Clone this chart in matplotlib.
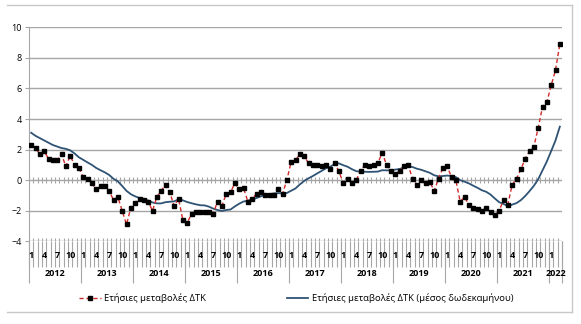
import numpy as np
import matplotlib
matplotlib.use('Agg')
import matplotlib.pyplot as plt
from matplotlib.lines import Line2D
import matplotlib.transforms as mtransforms

plt.rcParams['font.family'] = ['Open Sans', 'DejaVu Sans']

# monthly data, Jan 2012 - Mar 2022
years = [2012, 2013, 2014, 2015, 2016, 2017, 2018, 2019, 2020, 2021, 2022]
month_labels = [1, 4, 7, 10]

cpi_annual = [
    2.3, 2.1, 1.7, 1.9, 1.4, 1.3, 1.3, 1.7, 0.9, 1.6, 1.0, 0.8,          # 2012
    0.2, 0.1, -0.2, -0.6, -0.4, -0.4, -0.7, -1.3, -1.1, -2.0, -2.9, -1.8,  # 2013
    -1.5, -1.2, -1.3, -1.4, -2.0, -1.1, -0.7, -0.3, -0.8, -1.7, -1.2, -2.6,  # 2014
    -2.8, -2.2, -2.1, -2.1, -2.1, -2.1, -2.2, -1.4, -1.7, -0.9, -0.8, -0.2,  # 2015
    -0.6, -0.5, -1.4, -1.2, -0.9, -0.8, -1.0, -1.0, -1.0, -0.6, -0.9, 0.0,   # 2016
    1.2, 1.3, 1.7, 1.6, 1.1, 1.0, 1.0, 0.9, 1.0, 0.7, 1.1, 0.6,             # 2017
    -0.2, 0.1, -0.2, 0.0, 0.6, 1.0, 0.9, 1.0, 1.1, 1.8, 1.0, 0.6,           # 2018
    0.4, 0.6, 0.9, 1.0, 0.1, -0.3, 0.0, -0.2, -0.1, -0.7, 0.1, 0.8,         # 2019
    0.9, 0.2, 0.0, -1.4, -1.1, -1.6, -1.8, -1.9, -2.0, -1.8, -2.1, -2.3,    # 2020
    -2.0, -1.3, -1.6, -0.3, 0.1, 0.7, 1.4, 1.9, 2.2, 3.4, 4.8, 5.1,         # 2021
    6.2, 7.2, 8.9,                                                       # 2022
]

cpi_12m_avg = [
    3.1, 2.9, 2.75, 2.6, 2.45, 2.3, 2.2, 2.1, 2.05, 1.95, 1.75, 1.5,
    1.33, 1.16, 1.0, 0.8, 0.65, 0.51, 0.34, 0.09, -0.08, -0.38, -0.7, -0.92,
    -1.06, -1.17, -1.26, -1.33, -1.46, -1.52, -1.52, -1.44, -1.41, -1.39, -1.25, -1.32,
    -1.43, -1.51, -1.58, -1.64, -1.65, -1.73, -1.86, -1.95, -2.02, -1.95, -1.92, -1.72,
    -1.54, -1.4, -1.34, -1.27, -1.17, -1.06, -0.96, -0.93, -0.87, -0.85, -0.86, -0.84,
    -0.69, -0.54, -0.28, -0.05, 0.12, 0.27, 0.44, 0.6, 0.77, 0.88, 1.05, 1.1,
    0.98, 0.88, 0.72, 0.59, 0.55, 0.55, 0.54, 0.55, 0.56, 0.65, 0.64, 0.64,
    0.69, 0.73, 0.82, 0.9, 0.86, 0.75, 0.68, 0.58, 0.48, 0.32, 0.25, 0.27,
    0.3, 0.27, 0.2, 0.0, -0.1, -0.21, -0.36, -0.5, -0.66, -0.76, -0.94, -1.2,
    -1.44, -1.56, -1.69, -1.6, -1.5, -1.31, -1.04, -0.72, -0.37, 0.06, 0.64, 1.22,
    1.9, 2.6, 3.5,
]

n = len(cpi_annual)
x = np.arange(n)
grid_col = '#a6a6a6'

fig = plt.figure(figsize=(5.81, 3.24), dpi=100)
W, H = 581, 324
ax = fig.add_axes([29 / W, 1 - 241.3 / H, (562 - 29) / W, (241.3 - 27.3) / H])
ax.set_xlim(-0.5, n - 0.5)
ax.set_ylim(-4, 10)

for yv in [-2, 2, 4, 6, 8, 10]:
    ax.axhline(yv, color=grid_col, lw=1, zorder=1)
for yv in [0, -4]:
    ax.axhline(yv, color=grid_col, lw=1, zorder=1)
    ax.vlines(np.arange(n + 1) - 0.5, yv - 0.2, yv + 0.2, color=grid_col, lw=0.8, zorder=1)

ax.plot(x, cpi_12m_avg, color='#2f5374', lw=1.3, zorder=3)
ax.plot(x, cpi_annual, color='#d42a2a', ls='--', dashes=(3, 2), lw=1.0,
        marker='s', ms=2.2, mfc='black', mec='black', zorder=4)

for s in ['top', 'right', 'bottom']:
    ax.spines[s].set_visible(False)
ax.spines['left'].set_color(grid_col)
ax.set_yticks(range(-4, 11, 2))
ax.tick_params(axis='y', direction='out', length=3, color=grid_col, labelsize=6.5, pad=2)
ax.set_xticks([])

# multi-level category labels
trans = mtransforms.blended_transform_factory(ax.transData, ax.transAxes)
px = 1 / (241.3 - 27.3)
ax.vlines(np.arange(n + 1) - 0.5, -26 * px, 0, color=grid_col, lw=0.8,
          transform=trans, clip_on=False)
ax.vlines(np.arange(0, n + 12, 12) - 0.5, -42 * px, 0, color=grid_col, lw=0.8,
          transform=trans, clip_on=False)
ax.vlines([n - 0.5], -42 * px, 0, color=grid_col, lw=0.8, transform=trans, clip_on=False)
for i in range(n):
    m = i % 12 + 1
    if m in month_labels:
        ax.text(i, -14 * px, str(m), transform=trans, ha='center', va='center',
                fontsize=6.5, fontweight='bold')
for k, yr in enumerate(years):
    start = k * 12
    end = min(start + 12, n)
    ax.text((start + end - 1) / 2, -32 * px, str(yr), transform=trans, ha='center',
            va='center', fontsize=6.5, fontweight='bold')

# legend
handles = [
    Line2D([], [], color='#d42a2a', ls='--', dashes=(3, 2), lw=1.0, marker='s', ms=2.2,
           mfc='black', mec='black'),
    Line2D([], [], color='#2f5374', lw=1.3),
]
labels = ['Ετήσιες μεταβολές ΔΤΚ', 'Ετήσιες μεταβολές ΔΤΚ (μέσος δωδεκαμήνου)']
fig.legend(handles, labels, loc='center', bbox_to_anchor=(0.51, 1 - 298 / H), ncol=2,
           frameon=False, fontsize=6.8, handlelength=2.3, numpoints=1, columnspacing=8.5,
           handletextpad=0.4)

# outer chart border
bc = '#c8c8c8'
fig.add_artist(Line2D([7 / W, 572 / W], [1 - 5 / H, 1 - 5 / H], color=bc, lw=1))
fig.add_artist(Line2D([572 / W, 572 / W], [1 - 5 / H, 1 - 312 / H], color=bc, lw=1))
fig.add_artist(Line2D([7 / W, 572 / W], [1 - 312 / H, 1 - 312 / H], color=bc, lw=1))

fig.savefig('out.png', dpi=100)
